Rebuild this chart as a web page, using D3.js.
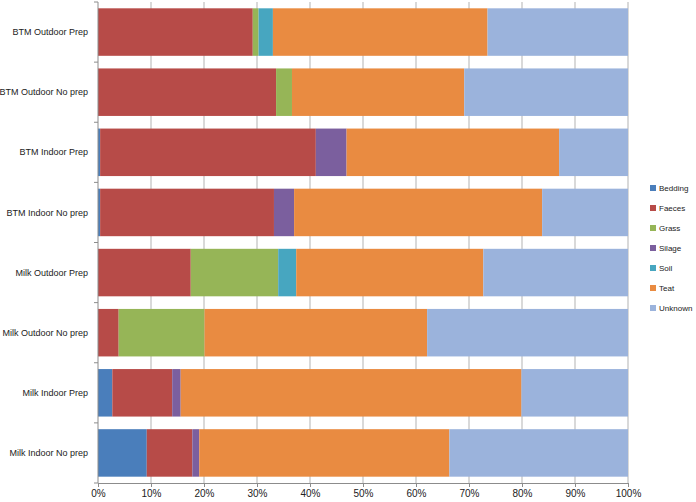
<!DOCTYPE html>
<html>
<head>
<meta charset="utf-8">
<script src="https://cdn.jsdelivr.net/npm/d3@7"></script>
<style>
  body { margin: 0; background: #fff; }
  text { font-family: "Liberation Sans", Arial, sans-serif; fill: #222; }
</style>
</head>
<body>
<div id="chart"></div>
<script>
'use strict';

var categories = ['BTM Outdoor Prep', 'BTM Outdoor No prep', 'BTM Indoor Prep', 'BTM Indoor No prep',
                  'Milk Outdoor Prep', 'Milk Outdoor No prep', 'Milk Indoor Prep', 'Milk Indoor No prep'];
var sources = ['Bedding', 'Faeces', 'Grass', 'Silage', 'Soil', 'Teat', 'Unknown'];

// percent of each source per sample, same order as categories
var bedding = [0,    0,    0.4,  0.4,  0,    0,    2.7,  9.2];
var faeces  = [29.2, 33.6, 40.7, 32.8, 17.5, 3.9,  11.3, 8.6];
var grass   = [1.1,  3.0,  0,    0,    16.5, 16.2, 0,    0];
var silage  = [0,    0,    5.8,  3.8,  0,    0,    1.6,  1.3];
var soil    = [2.7,  0,    0,    0,    3.4,  0,    0,    0];
var teat    = [40.5, 32.5, 40.1, 46.8, 35.3, 42.0, 64.3, 47.2];
var unknown = [26.5, 30.9, 13.0, 16.2, 27.3, 37.9, 20.1, 33.7];
var xTicks = [0, 10, 20, 30, 40, 50, 60, 70, 80, 90, 100];

var colors = ['#4a7ebb', '#b74b48', '#96b557', '#7b5f9e', '#47a6c0', '#e98b41', '#9bb3dc'];

var seriesValues = [bedding, faeces, grass, silage, soil, teat, unknown];
var rows = categories.map(function(c, i) {
  var r = { cat: c };
  sources.forEach(function(s, j) { r[s] = seriesValues[j][i]; });
  return r;
});

var width = 696, height = 502;
var margin = { top: 2, right: 68, bottom: 19, left: 98 };

var svg = d3.select('#chart').append('svg')
  .attr('width', width).attr('height', height);

var x = d3.scaleLinear().domain([0, 100]).range([margin.left, width - margin.right]);
var y = d3.scaleBand().domain(categories)
  .range([margin.top, height - margin.bottom])
  .paddingInner(0.21).paddingOuter(0.105);

// gridlines
svg.append('g').selectAll('line')
  .data(xTicks.slice(1))
  .enter().append('line')
    .attr('x1', function(d) { return x(d); })
    .attr('x2', function(d) { return x(d); })
    .attr('y1', margin.top)
    .attr('y2', height - margin.bottom)
    .attr('stroke', '#b3b3b3')
    .attr('stroke-width', 1);

var stack = d3.stack().keys(sources);
var layers = stack(rows);

svg.append('g').selectAll('g')
  .data(layers)
  .enter().append('g')
    .attr('fill', function(d, i) { return colors[i]; })
  .selectAll('rect')
  .data(function(d) { return d; })
  .enter().append('rect')
    .attr('x', function(d) { return x(d[0]); })
    .attr('width', function(d) { return Math.max(0, x(d[1]) - x(d[0])); })
    .attr('y', function(d) { return y(d.data.cat); })
    .attr('height', y.bandwidth());

// y axis line and category ticks
var step = y.step();
var bounds = d3.range(categories.length + 1).map(function(i) {
  return margin.top + i * (height - margin.bottom - margin.top) / categories.length;
});
svg.append('line')
  .attr('x1', x(0)).attr('x2', x(0))
  .attr('y1', margin.top).attr('y2', height - margin.bottom)
  .attr('stroke', '#8c8c8c');
svg.append('g').selectAll('line')
  .data(bounds)
  .enter().append('line')
    .attr('x1', x(0) - 4).attr('x2', x(0))
    .attr('y1', function(d) { return d; })
    .attr('y2', function(d) { return d; })
    .attr('stroke', '#8c8c8c');

svg.append('g').selectAll('text')
  .data(categories)
  .enter().append('text')
    .attr('x', 88)
    .attr('y', function(d) { return y(d) + y.bandwidth() / 2; })
    .attr('dy', '0.35em')
    .attr('text-anchor', 'end')
    .attr('font-size', 9)
    .text(function(d) { return d; });

// x axis
var xAxis = d3.axisBottom(x)
  .tickValues(xTicks)
  .tickFormat(function(d) { return d + '%'; })
  .tickSize(4)
  .tickPadding(3);
var gx = svg.append('g')
  .attr('transform', 'translate(0,' + (height - margin.bottom) + ')')
  .call(xAxis);
gx.select('.domain').attr('stroke', '#8c8c8c');
gx.selectAll('.tick line').attr('stroke', '#8c8c8c');
gx.selectAll('.tick text').attr('font-size', 10).attr('fill', '#222')
  .attr('font-family', '"Liberation Sans", Arial, sans-serif');

// legend
var legend = svg.append('g').selectAll('g')
  .data(sources)
  .enter().append('g')
    .attr('transform', function(d, i) { return 'translate(650,' + (185 + i * 20) + ')'; });
legend.append('rect')
  .attr('width', 6).attr('height', 6)
  .attr('fill', function(d, i) { return colors[i]; });
legend.append('text')
  .attr('x', 9).attr('y', 3)
  .attr('dy', '0.35em')
  .attr('font-size', 8)
  .text(function(d) { return d; });
</script>
</body>
</html>
